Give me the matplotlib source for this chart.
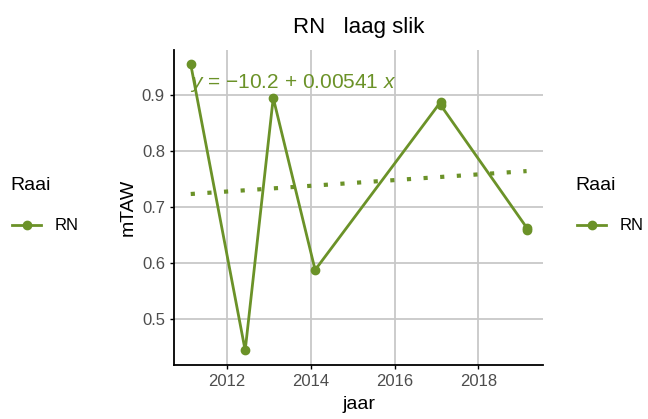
import matplotlib.pyplot as plt
from matplotlib.lines import Line2D

plt.rcParams['font.family'] = ['Liberation Sans', 'DejaVu Sans']
plt.rcParams['mathtext.fontset'] = 'custom'
plt.rcParams['mathtext.rm'] = 'Liberation Sans'
plt.rcParams['mathtext.it'] = 'Liberation Sans:italic'

jaar = [2011.13, 2012.43, 2013.1, 2014.1, 2017.1, 2017.1, 2019.15, 2019.15]
mtaw = [0.955, 0.443, 0.895, 0.587, 0.888, 0.882, 0.663, 0.658]
trend_x = [2011.13, 2019.15]
trend_y = [0.723, 0.764]
kleur = '#6B9228'

fig = plt.figure(figsize=(6.48, 4.19), dpi=100)
ax = fig.add_axes([0.2685, 0.129, 0.57, 0.752])

ax.plot(jaar, mtaw, color=kleur, lw=2, marker='o', ms=6)
ax.plot(trend_x, trend_y, color=kleur, lw=3, linestyle=(0, (1, 3)))

ax.set_xlim(2010.73, 2019.55)
ax.set_ylim(0.417, 0.981)
ax.set_xticks([2012, 2014, 2016, 2018])
ax.set_yticks([0.5, 0.6, 0.7, 0.8, 0.9])
ax.grid(color='#C8C8C8', lw=1.3)
ax.set_axisbelow(True)
for s in ['top', 'right']:
    ax.spines[s].set_visible(False)
for s in ['left', 'bottom']:
    ax.spines[s].set_linewidth(1.3)
ax.tick_params(labelsize=12, labelcolor='#4D4D4D', length=3, width=1)
ax.set_xlabel('jaar', fontsize=14, labelpad=5)
ax.set_ylabel('mTAW', fontsize=14, labelpad=4)
ax.set_title('RN   laag slik', fontsize=16, pad=12)

ax.text(2011.12, 0.902, '$y$ = \u221210.2 + 0.00541 $x$', color=kleur, fontsize=15,
        va='bottom')

# legenda links en rechts
for lx in [12 / 648, 577 / 648]:
    fig.text(lx - 2 / 648, 1 - 185 / 419, 'Raai', fontsize=14, va='center')
    ly = 1 - 225 / 419
    fig.add_artist(Line2D([lx, lx + 29 / 648], [ly, ly], color=kleur, lw=2,
                          transform=fig.transFigure))
    fig.add_artist(Line2D([lx + 14.5 / 648], [ly], color=kleur, marker='o', ms=6,
                          transform=fig.transFigure))
    fig.text(lx + 43 / 648, ly, 'RN', fontsize=12, va='center')

plt.savefig('out.png')
